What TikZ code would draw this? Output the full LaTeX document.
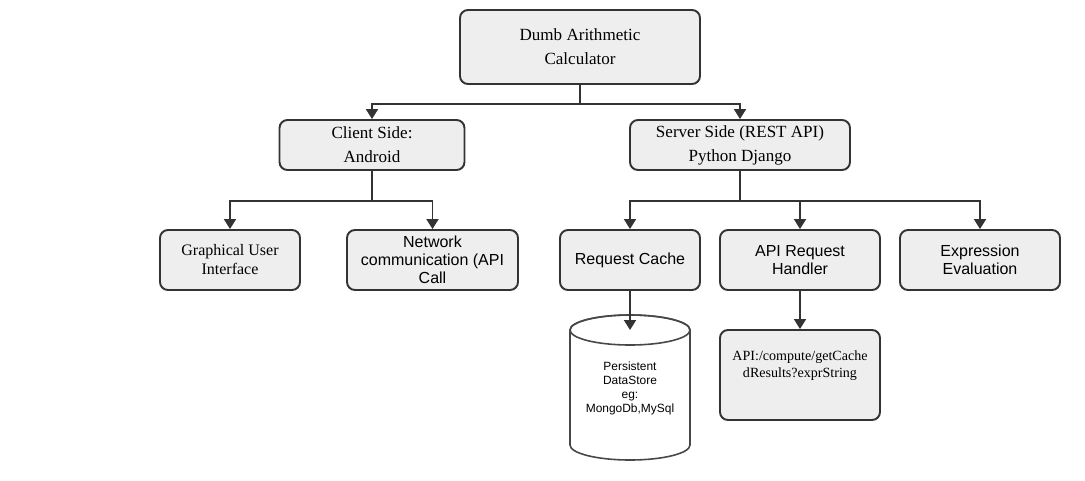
\documentclass[tikz,border=0pt]{standalone}
\usepackage{fontspec}
\setmainfont{Liberation Serif}
\setsansfont{Liberation Sans}
\usetikzlibrary{arrows.meta}
\definecolor{edgegray}{HTML}{333333}
\definecolor{boxfill}{HTML}{EEEEEE}

\begin{document}
\begin{tikzpicture}[
  box/.style={draw=edgegray, fill=boxfill, line width=1.1pt, rounded corners=0.16cm, align=center, inner sep=0pt},
  bigtext/.style={font=\fontsize{9.7}{13.7}\selectfont},
  serftext/.style={font=\fontsize{9.1}{10.8}\selectfont},
  sanstext/.style={font=\sffamily\fontsize{9.1}{10.2}\selectfont},
  link/.style={draw=edgegray, line width=1.1pt, -{Triangle[width=0.24cm,length=0.2cm]}}
]
\useasboundingbox (0,0) rectangle (21.7,-9.6);
% top
\node[box, bigtext, minimum width=4.8cm, minimum height=1.48cm] (root) at (11.6,-0.94) {Dumb Arithmetic\\Calculator};
% second row
\node[box, bigtext, minimum width=3.7cm, minimum height=1cm] (client) at (7.44,-2.9) {Client Side:\\Android};
\node[box, bigtext, minimum width=4.4cm, minimum height=1cm] (server) at (14.8,-2.9) {Server Side (REST API)\\Python Django};
% third row
\node[box, serftext, minimum width=2.8cm, minimum height=1.2cm] (gui) at (4.6,-5.2) {Graphical User\\Interface};
\node[box, sanstext, minimum width=3.42cm, minimum height=1.2cm] (network) at (8.65,-5.2) {Network\\communication (API\\Call};
\node[box, sanstext, minimum width=2.8cm, minimum height=1.2cm] (cache) at (12.6,-5.2) {Request Cache};
\node[box, sanstext, minimum width=3.2cm, minimum height=1.2cm] (handler) at (16,-5.2) {API Request\\Handler};
\node[box, sanstext, minimum width=3.2cm, minimum height=1.2cm] (expr) at (19.6,-5.2) {Expression\\Evaluation};
% endpoint box
\node[box, font=\fontsize{8}{9.7}\selectfont, minimum width=3.2cm, minimum height=1.8cm, text depth=0.45cm] (api) at (16,-7.5) {API:/compute/getCache\\dResults?exprString};
% data store
\filldraw[draw=edgegray!90, fill=white, line width=0.9pt] (11.4,-6.6) -- (11.4,-8.9) arc[start angle=180, end angle=360, x radius=1.2, y radius=0.3] -- (13.8,-6.6) arc[start angle=0, end angle=180, x radius=1.2, y radius=0.3];
\draw[edgegray!90, line width=0.9pt] (12.6,-6.6) ellipse [x radius=1.2, y radius=0.3];
\coordinate (dbtop) at (12.6,-6.6);
\node[font=\sffamily\fontsize{6.8}{8}\selectfont, align=center] (store) at (12.6,-7.76) {Persistent\\DataStore\\eg:\\MongoDb,MySql};
% connectors
\draw[link] (root.south) -- ++(0,-0.38) -| (client.north);
\draw[link] (root.south) -- ++(0,-0.38) -| (server.north);
\draw[link] (client.south) -- ++(0,-0.6) -| (gui.north);
\draw[link] (client.south) -- ++(0,-0.6) -| (network.north);
\draw[link] (server.south) -- ++(0,-0.6) -| (cache.north);
\draw[link] (server.south) -- ++(0,-0.6) -| (handler.north);
\draw[link] (server.south) -- ++(0,-0.6) -| (expr.north);
\draw[link] (cache.south) -- (dbtop);
\draw[link] (handler.south) -- (api.north);
\end{tikzpicture}
\end{document}
